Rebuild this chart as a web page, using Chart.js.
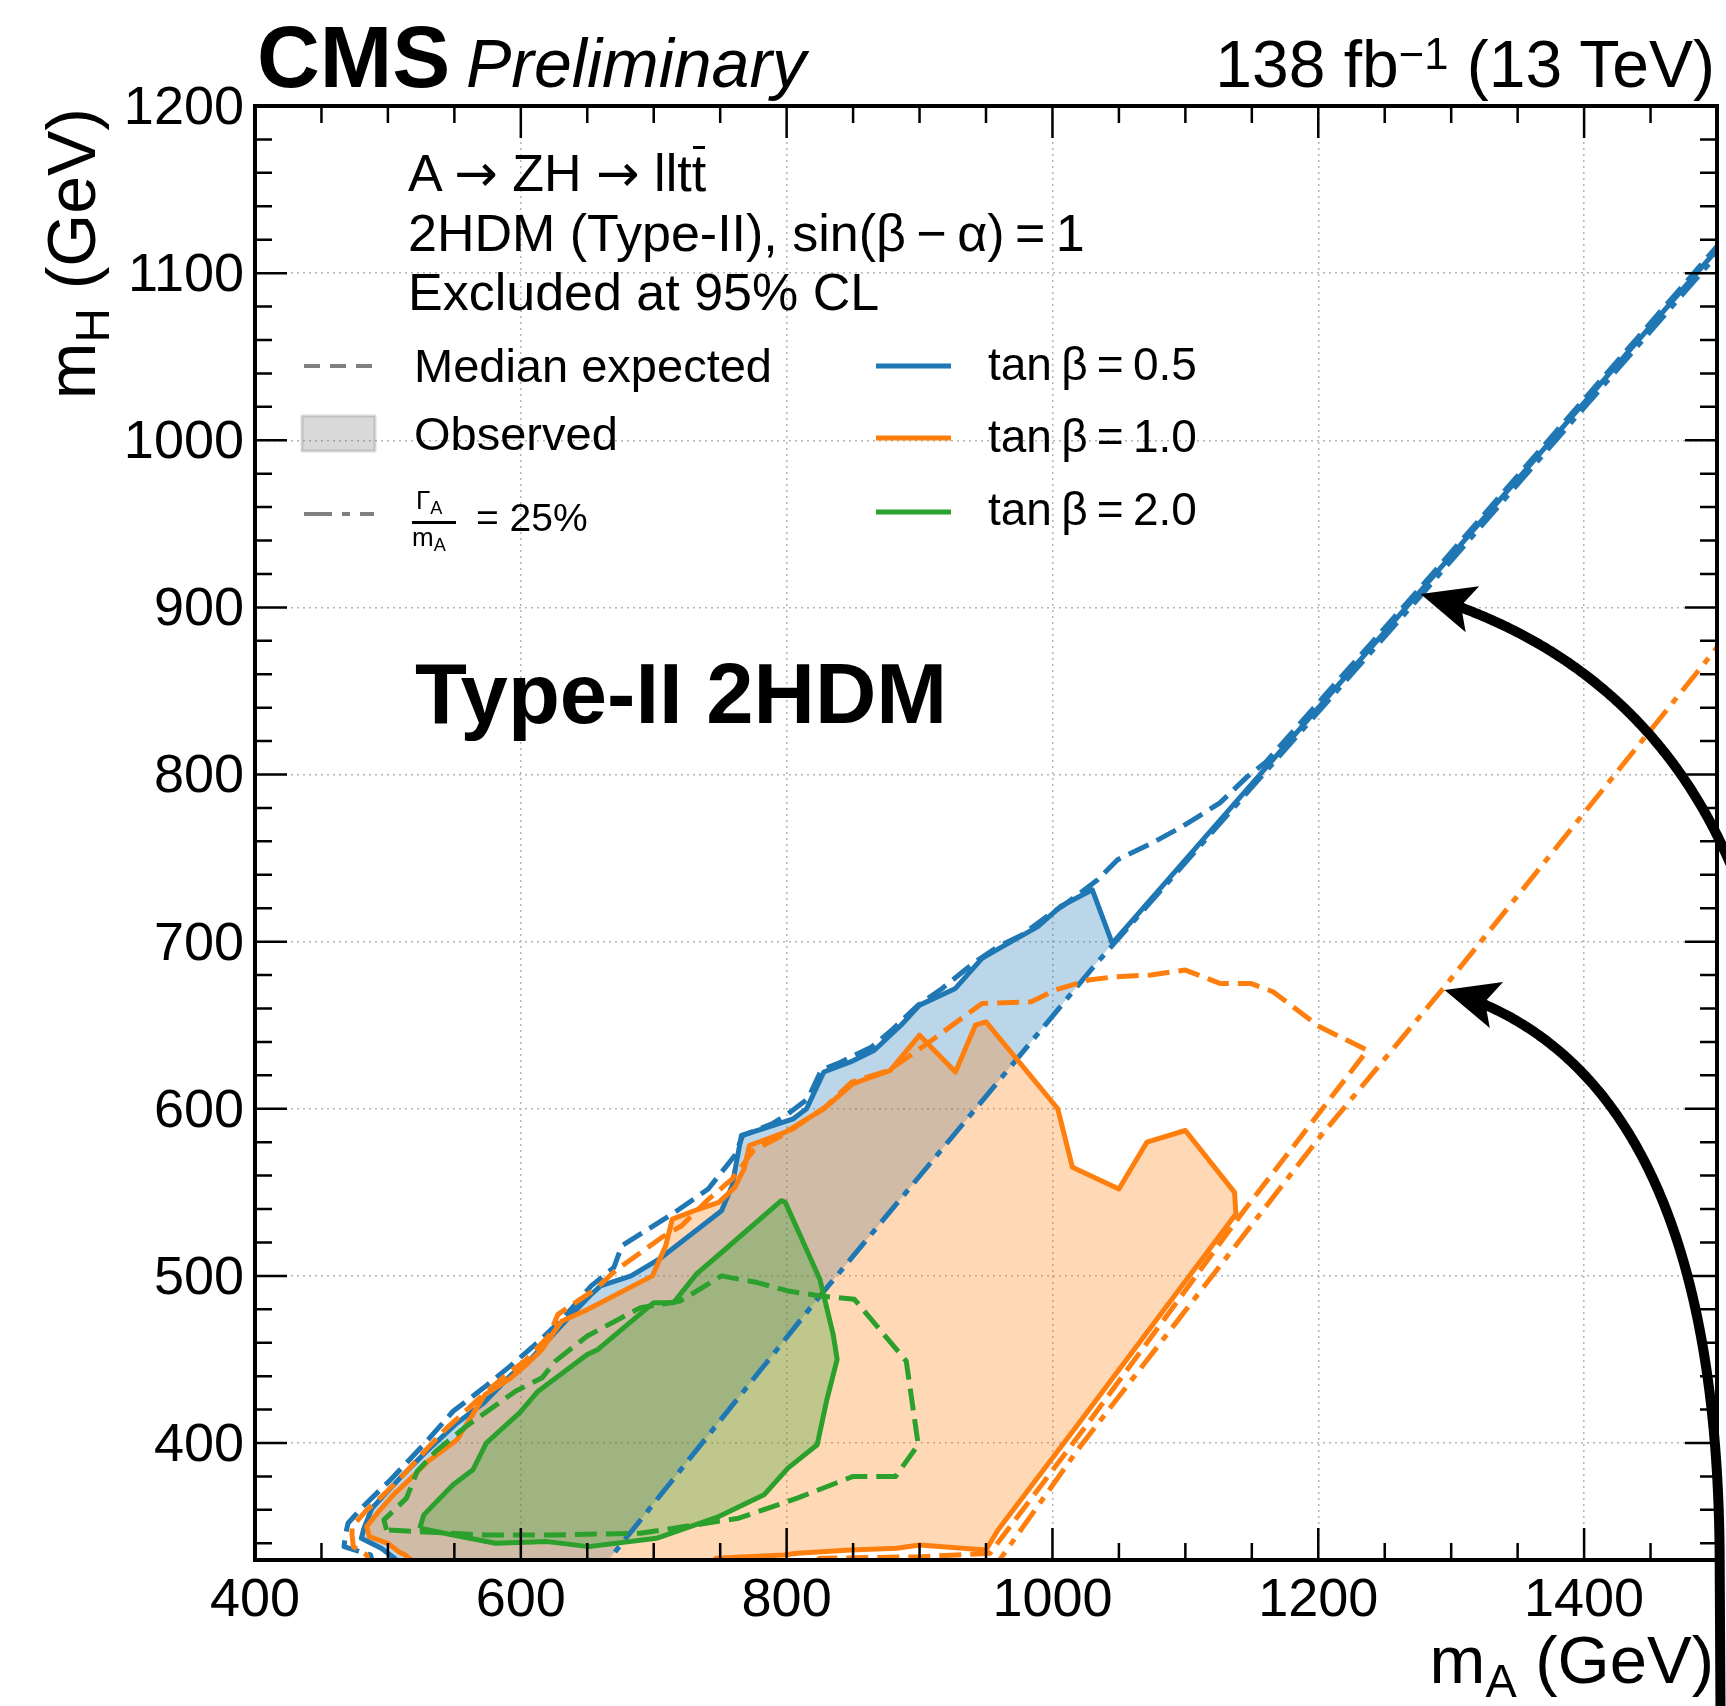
<!DOCTYPE html>
<html>
<head>
<meta charset="utf-8">
<title>A to ZH exclusion, Type-II 2HDM</title>
<script src="https://cdn.jsdelivr.net/npm/chart.js@4.4.1/dist/chart.umd.min.js"></script>
<style>
  html, body { margin: 0; padding: 0; background: #fff; }
  #wrap { position: relative; width: 1726px; height: 1706px; overflow: hidden;
          font-family: "Liberation Sans", Arial, sans-serif; color: #000; }
  #chart { position: absolute; left: 0; top: 0; }
  .txt { position: absolute; white-space: nowrap; line-height: 1; }
  .txt sub { font-size: 0.7em; vertical-align: -0.3em; line-height: 0; }
  .txt sup { font-size: 0.66em; vertical-align: 0.42em; line-height: 0; }
  .arr { font-family: "DejaVu Sans", sans-serif; }
  .bar { position: relative; }
  .bar::after { content: ""; position: absolute; left: 0.02em; right: 0.02em; top: 0.04em;
                border-top: 0.06em solid #000; }
</style>
</head>
<body>
<div id="wrap">
  <canvas id="chart" width="1726" height="1706"></canvas>
</div>
<script>
//-----------------------------------------------------
// axes
//-----------------------------------------------------
const xRange = [400, 1500];
const yRange = [330, 1200];
const xTickValues = [400, 600, 800, 1000, 1200, 1400];
const yTickValues = [400, 500, 600, 700, 800, 900, 1000, 1100, 1200];
const xMinorStep = 50;
const yMinorStep = 20;

//-----------------------------------------------------
// tan(beta) = 0.5  (mA, mH) in GeV
//-----------------------------------------------------
const blueExpected = [
  [490, 322], [487, 333], [467, 338], [468, 345], [470, 352], [480, 361], [502, 378],
  [528, 400], [549, 419], [572, 433], [592, 446], [611, 459], [631, 474], [653, 494],
  [670, 505], [676, 518], [696, 528], [714, 537], [741, 552], [761, 572], [767, 584],
  [789, 591], [801, 597], [816, 606], [826, 623], [841, 628], [864, 637], [879, 647],
  [899, 662], [917, 672], [942, 688], [959, 697], [977, 704], [999, 717], [1009, 722],
  [1034, 737], [1049, 749], [1075, 759], [1098, 769], [1126, 783], [1147, 799],
  [1160, 807], [1276, 911], [1500, 1116]
];
const blueObservedEdge = [
  [515, 322], [505, 331], [495, 337], [480, 343], [482, 349], [488, 361], [509, 379],
  [529, 395], [552, 412], [572, 424], [593, 441], [606, 449], [636, 475], [653, 489],
  [660, 494], [683, 500], [704, 510], [751, 539], [759, 554], [766, 584], [786, 589],
  [805, 594], [815, 600], [828, 622], [848, 628], [866, 635], [886, 650], [900, 662],
  [927, 672], [947, 690], [960, 696], [989, 709], [1006, 721], [1030, 731], [1045, 699]
];
const blueObservedDiag = [[1045, 699], [1276, 909], [1500, 1114]];
const blueWidth25 = [[655, 318], [666, 330], [822, 485], [1032, 686], [1276, 906], [1500, 1111]];

//-----------------------------------------------------
// tan(beta) = 1.0
//-----------------------------------------------------
const orangeExpected = [
  [488, 322], [484, 333], [474, 338], [473, 345], [473, 350], [483, 359], [498, 370],
  [513, 382], [531, 398], [543, 408], [561, 421], [573, 430], [591, 442], [603, 449],
  [621, 464], [628, 477], [641, 484], [656, 492], [671, 503], [706, 523], [721, 530],
  [740, 545], [759, 558], [775, 575], [799, 585], [829, 601], [849, 616], [877, 623],
  [904, 638], [947, 663], [984, 664], [1002, 671], [1027, 677], [1047, 679], [1074, 680],
  [1100, 683], [1126, 675], [1149, 675], [1166, 670], [1201, 649], [1237, 635],
  [1144, 539], [1026, 411], [953, 334], [902, 332], [825, 331], [810, 322], [488, 322]
];
const orangeObserved = [
  [530, 322], [513, 333], [508, 335], [500, 340], [486, 344], [484, 350], [493, 359],
  [504, 369], [520, 381], [530, 389], [552, 402], [563, 416], [573, 429], [591, 438],
  [603, 446], [616, 456], [628, 470], [631, 473], [648, 479], [699, 500], [709, 518],
  [714, 534], [734, 540], [749, 544], [761, 553], [768, 564], [772, 578], [799, 586],
  [828, 600], [850, 615], [878, 623], [900, 644], [927, 622], [942, 650], [950, 652],
  [1004, 600], [1015, 565], [1050, 552], [1071, 580], [1100, 587], [1137, 550],
  [1138, 537], [1019, 411], [959, 348], [950, 336], [900, 339], [883, 337], [848, 336],
  [808, 334], [798, 333], [747, 331], [735, 322], [530, 322]
];
const orangeWidth25 = [[953, 322], [962, 332], [1019, 396], [1200, 582], [1295, 673], [1400, 777], [1500, 876]];

//-----------------------------------------------------
// tan(beta) = 2.0
//-----------------------------------------------------
const greenExpected = [
  [499, 348], [497, 354], [514, 367], [522, 383], [536, 395], [559, 410], [596, 431],
  [616, 439], [626, 449], [650, 464], [690, 481], [720, 485], [751, 500], [778, 496],
  [801, 491], [825, 488], [851, 486], [890, 449], [899, 399], [882, 380], [850, 380],
  [808, 367], [764, 355], [690, 346], [623, 345], [572, 345], [499, 348]
];
const greenObserved = [
  [524, 349], [527, 357], [549, 375], [564, 384], [574, 400], [599, 418], [613, 431],
  [650, 453], [658, 456], [700, 484], [715, 484], [732, 501], [751, 514], [796, 545],
  [799, 544], [825, 498], [835, 465], [838, 450], [830, 425], [823, 399], [801, 385],
  [783, 369], [749, 356], [702, 343], [651, 338], [620, 341], [581, 340], [549, 345],
  [524, 349]
];

// annotation arrows: tail, bend (quadratic control), tip, in axis units
const arrowUpper = { tail: [1507, 752], bend: [1440, 870], tip: [1277, 908] };
const arrowLower = { tail: [1502, 331], bend: [1500, 624], tip: [1295, 671] };

//-----------------------------------------------------
// styles
//-----------------------------------------------------
const BLUE = "#1f77b4", ORANGE = "#ff7f0e", GREEN = "#2ca02c", GREY = "#808080";
const DASH = [22, 9];
const DASHDOT = [26, 9, 7, 9];
const FONT = "Liberation Sans";

const pts = (arr) => arr.map(([x, y]) => ({ x, y }));

function lineSet(arr, color, dash, order) {
  return {
    data: pts(arr), borderColor: color, borderWidth: 5, borderDash: dash,
    borderJoinStyle: "round", fill: false, pointRadius: 0, order: order
  };
}
function fillSet(arr, color, order) {
  return {
    data: pts(arr), backgroundColor: color, borderColor: "rgba(0,0,0,0)", borderWidth: 0,
    fill: "shape", pointRadius: 0, order: order
  };
}

const blueFillShape = blueObservedEdge.concat(blueWidth25.filter((p) => p[0] < 1045).reverse());

//-----------------------------------------------------
// decorations: inward ticks, frame, arrows, legend keys
//-----------------------------------------------------
function drawArrow(ctx, tail, ctrl, tip, extend) {
  const headLen = 54, headW = 24;
  const q = (t) => [
    (1 - t) * (1 - t) * tail[0] + 2 * (1 - t) * t * ctrl[0] + t * t * tip[0],
    (1 - t) * (1 - t) * tail[1] + 2 * (1 - t) * t * ctrl[1] + t * t * tip[1]
  ];
  let dx = tip[0] - ctrl[0], dy = tip[1] - ctrl[1];
  let d = Math.hypot(dx, dy); dx /= d; dy /= d;
  let ex = tail[0] - ctrl[0], ey = tail[1] - ctrl[1];
  d = Math.hypot(ex, ey); ex /= d; ey /= d;

  ctx.beginPath();
  ctx.moveTo(tail[0] + ex * extend, tail[1] + ey * extend);
  ctx.lineTo(tail[0], tail[1]);
  for (let i = 1; i <= 200; i++) {
    const p = q(i / 200);
    if (Math.hypot(p[0] - tip[0], p[1] - tip[1]) < headLen * 0.7) break;
    ctx.lineTo(p[0], p[1]);
  }
  ctx.lineWidth = 10;
  ctx.lineJoin = "round";
  ctx.stroke();

  ctx.beginPath();
  ctx.moveTo(tip[0], tip[1]);
  ctx.lineTo(tip[0] - dx * headLen - dy * headW, tip[1] - dy * headLen + dx * headW);
  ctx.lineTo(tip[0] - dx * headLen * 0.78, tip[1] - dy * headLen * 0.78);
  ctx.lineTo(tip[0] - dx * headLen + dy * headW, tip[1] - dy * headLen - dx * headW);
  ctx.closePath();
  ctx.fill();
}

function keyLine(ctx, x1, x2, y, color, dash, w) {
  ctx.save();
  ctx.strokeStyle = color;
  ctx.lineWidth = w;
  ctx.setLineDash(dash);
  ctx.beginPath();
  ctx.moveTo(x1, y);
  ctx.lineTo(x2, y);
  ctx.stroke();
  ctx.restore();
}

const decor = {
  id: "decor",
  afterDraw(chart) {
    const { ctx, chartArea: a } = chart;
    const sx = chart.scales.x, sy = chart.scales.y;
    ctx.save();

    // inward ticks on all four sides
    ctx.strokeStyle = "#000";
    ctx.lineWidth = 2.5;
    ctx.beginPath();
    for (let v = xRange[0]; v <= xRange[1]; v += xMinorStep) {
      const len = xTickValues.includes(v) ? 32 : 17;
      const px = sx.getPixelForValue(v);
      ctx.moveTo(px, a.bottom); ctx.lineTo(px, a.bottom - len);
      ctx.moveTo(px, a.top); ctx.lineTo(px, a.top + len);
    }
    const yStart = Math.ceil(yRange[0] / yMinorStep) * yMinorStep;
    for (let v = yStart; v <= yRange[1]; v += yMinorStep) {
      const len = yTickValues.includes(v) ? 32 : 17;
      const py = sy.getPixelForValue(v);
      ctx.moveTo(a.left, py); ctx.lineTo(a.left + len, py);
      ctx.moveTo(a.right, py); ctx.lineTo(a.right - len, py);
    }
    ctx.stroke();

    // frame
    ctx.lineWidth = 4;
    ctx.strokeRect(a.left, a.top, a.right - a.left, a.bottom - a.top);

    // arrows
    ctx.fillStyle = "#000";
    ctx.lineCap = "butt";
    const px = ([vx, vy]) => [sx.getPixelForValue(vx), sy.getPixelForValue(vy)];
    drawArrow(ctx, px(arrowUpper.tail), px(arrowUpper.bend), px(arrowUpper.tip), 40);
    drawArrow(ctx, px(arrowLower.tail), px(arrowLower.bend), px(arrowLower.tip), 200);

    // legend keys
    keyLine(ctx, 304, 374, 366, GREY, [16, 10], 4);
    ctx.fillStyle = "rgba(128,128,128,0.3)";
    ctx.fillRect(302, 416, 73, 35);
    ctx.strokeStyle = "rgba(128,128,128,0.3)";
    ctx.lineWidth = 3;
    ctx.strokeRect(302, 416, 73, 35);
    keyLine(ctx, 304, 374, 514, GREY, [28, 10, 8, 10], 4);
    keyLine(ctx, 876, 951, 366, BLUE, [], 5);
    keyLine(ctx, 876, 951, 438, ORANGE, [], 5);
    keyLine(ctx, 876, 951, 512, GREEN, [], 5);

    ctx.restore();
  }
};

//-----------------------------------------------------
// chart
//-----------------------------------------------------
const tickFont = { family: FONT, size: 54 };

new Chart(document.getElementById("chart"), {
  type: "line",
  data: {
    datasets: [
      fillSet(blueFillShape, "rgba(31,119,180,0.3)", 30),
      fillSet(orangeObserved, "rgba(255,127,14,0.3)", 20),
      fillSet(greenObserved, "rgba(44,160,44,0.3)", 10),

      lineSet(blueWidth25, BLUE, DASHDOT, 3),
      lineSet(blueExpected, BLUE, DASH, 3),
      lineSet(blueObservedEdge, BLUE, [], 3),
      lineSet(blueObservedDiag, BLUE, [], 3),

      lineSet(orangeWidth25, ORANGE, DASHDOT, 2),
      lineSet(orangeExpected, ORANGE, DASH, 2),
      lineSet(orangeObserved, ORANGE, [], 2),

      lineSet(greenExpected, GREEN, DASH, 1),
      lineSet(greenObserved, GREEN, [], 1)
    ]
  },
  options: {
    responsive: false,
    animation: false,
    devicePixelRatio: 1,
    layout: { padding: { top: 106, right: 9, left: 0, bottom: 0 } },
    plugins: {
      legend: { display: false },
      tooltip: { enabled: false }
    },
    events: [],
    scales: {
      x: {
        type: "linear",
        min: xRange[0],
        max: xRange[1],
        afterBuildTicks: (s) => { s.ticks = xTickValues.map((v) => ({ value: v })); },
        afterFit: (s) => { s.height = 146; },
        grid: { color: "#b4b4b4", lineWidth: 1.5, drawTicks: false },
        border: { display: false, dash: [2, 4] },
        ticks: {
          font: tickFont, color: "#000", padding: 9, maxRotation: 0, autoSkip: false,
          callback: (v) => String(v)
        }
      },
      y: {
        type: "linear",
        min: yRange[0],
        max: yRange[1],
        afterBuildTicks: (s) => { s.ticks = yTickValues.map((v) => ({ value: v })); },
        afterFit: (s) => { s.width = 255; },
        grid: { color: "#b4b4b4", lineWidth: 1.5, drawTicks: false },
        border: { display: false, dash: [2, 4] },
        ticks: {
          font: tickFont, color: "#000", padding: 11, labelOffset: 3, autoSkip: false,
          callback: (v) => String(v)
        }
      }
    }
  },
  plugins: [decor]
});

//-----------------------------------------------------
// text
//-----------------------------------------------------
const wrap = document.getElementById("wrap");

function addText(html, o) {
  const el = document.createElement("div");
  el.className = "txt";
  el.innerHTML = html;
  el.style.fontSize = o.size + "px";
  el.style.top = (o.baseline - 0.8465 * o.size).toFixed(1) + "px";
  if (o.right !== undefined) el.style.right = o.right + "px";
  else el.style.left = o.left + "px";
  if (o.bold) el.style.fontWeight = "bold";
  if (o.italic) el.style.fontStyle = "italic";
  wrap.appendChild(el);
  return el;
}

addText("CMS", { left: 257, baseline: 87, size: 87, bold: true });
addText("Preliminary", { left: 466, baseline: 87, size: 68, italic: true });
addText("138 fb<sup>\u22121</sup> (13 TeV)", { right: 11, baseline: 87, size: 66 });

addText("A <span class=\"arr\">\u2192</span> ZH <span class=\"arr\">\u2192</span> llt<span class=\"bar\">t</span>",
  { left: 408, baseline: 191, size: 52 });
addText("2HDM (Type-II), sin(\u03b2\u2009\u2212\u2009\u03b1)\u2009=\u20091", { left: 408, baseline: 251, size: 52 });
addText("Excluded at 95% CL", { left: 408, baseline: 310, size: 52 });

addText("Median expected", { left: 414, baseline: 382, size: 47 });
addText("Observed", { left: 414, baseline: 450, size: 47 });
addText("\u0393<sub>A</sub>", { left: 416, baseline: 509, size: 26 });
const fracBar = document.createElement("div");
fracBar.style.cssText = "position:absolute;left:412px;top:521px;width:44px;height:2.5px;background:#000;";
wrap.appendChild(fracBar);
addText("m<sub>A</sub>", { left: 412, baseline: 546, size: 26 });
addText("= 25%", { left: 476, baseline: 531, size: 39 });

addText("tan\u2009\u03b2\u2009=\u20090.5", { left: 988, baseline: 380, size: 46 });
addText("tan\u2009\u03b2\u2009=\u20091.0", { left: 988, baseline: 452, size: 46 });
addText("tan\u2009\u03b2\u2009=\u20092.0", { left: 988, baseline: 525, size: 46 });

addText("Type-II 2HDM", { left: 415, baseline: 723, size: 85, bold: true });

addText("m<sub>A</sub> (GeV)", { right: 12, baseline: 1683, size: 67 });
const yTitle = addText("m<sub>H</sub> (GeV)", { left: 0, baseline: 0, size: 68 });
yTitle.style.width = "600px";
yTitle.style.textAlign = "right";
yTitle.style.transformOrigin = "0 0";
yTitle.style.transform = "rotate(-90deg)";
yTitle.style.left = (95 - 0.8465 * 68).toFixed(1) + "px";
yTitle.style.top = (108 + 600) + "px";
</script>
</body>
</html>
